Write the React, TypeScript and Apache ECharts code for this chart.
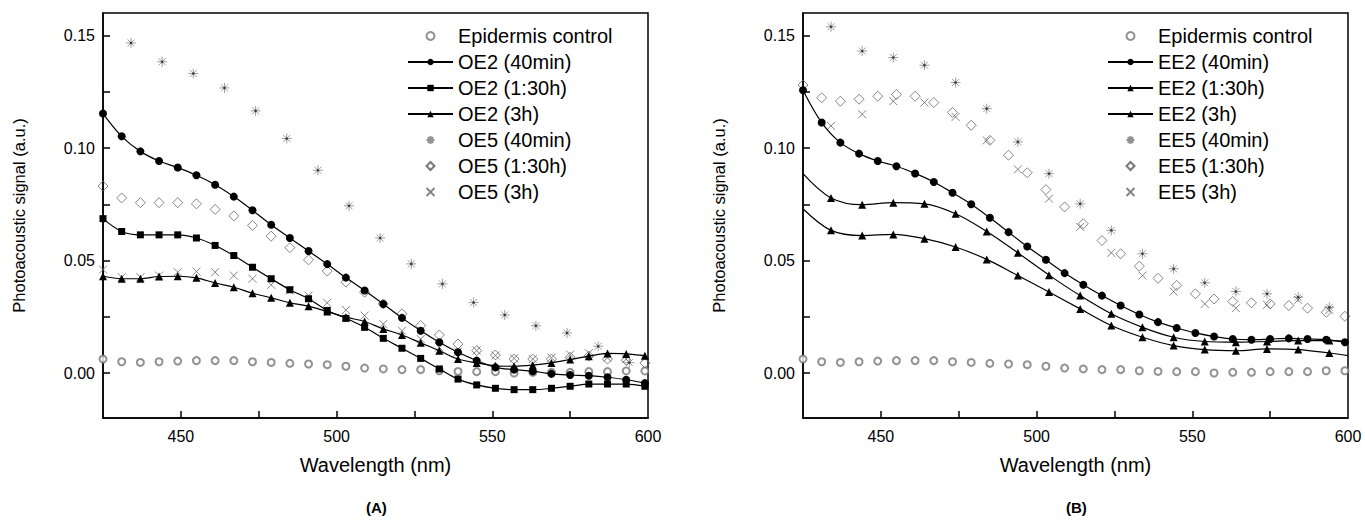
import React, { useEffect, useRef } from 'react';
import * as echarts from 'echarts';

// ---------- data ----------
const wl6 = [425, 431, 437, 443, 449, 455, 461, 467, 473, 479, 485, 491, 497, 503, 509, 515, 521, 527, 533, 539, 545, 551, 557, 563, 569, 575, 581, 587, 593, 599];
const wl10 = [434, 444, 454, 464, 474, 484, 494, 504, 514, 524, 534, 544, 554, 564, 574, 584, 594];
const wlTri = [425, 434, 444, 454, 464, 474, 484, 494, 504, 514, 524, 534, 544, 554, 564, 574, 584, 594, 600];

// Panel A
const controlA = [0.0062, 0.0050, 0.0047, 0.0050, 0.0053, 0.0055, 0.0055, 0.0055, 0.0050, 0.0047, 0.0043, 0.0040, 0.0037, 0.0030, 0.0022, 0.0018, 0.0015, 0.0015, 0.0010, 0.0007, 0.0006, 0.0006, 0.0000, 0.0003, 0.0003, 0.0003, 0.0006, 0.0006, 0.0009, 0.0009];
const oe2_40 = [0.1153, 0.1052, 0.0985, 0.0942, 0.0913, 0.0879, 0.0837, 0.0784, 0.0723, 0.0659, 0.0600, 0.0542, 0.0484, 0.0424, 0.0367, 0.0307, 0.0245, 0.0188, 0.0137, 0.0092, 0.0055, 0.0025, 0.0015, 0.0008, -0.0004, -0.0009, -0.0012, -0.0019, -0.0030, -0.0045];
const oe2_130 = [0.0686, 0.0629, 0.0614, 0.0614, 0.0614, 0.0600, 0.0567, 0.0522, 0.0470, 0.0419, 0.0370, 0.0330, 0.0278, 0.0243, 0.0203, 0.0154, 0.0110, 0.0065, 0.0018, -0.0027, -0.0053, -0.0068, -0.0074, -0.0074, -0.0068, -0.0059, -0.0049, -0.0049, -0.0049, -0.0059];
const oe2_3h = [0.0430, 0.0419, 0.0419, 0.0429, 0.0430, 0.0423, 0.0400, 0.0381, 0.0355, 0.0334, 0.0312, 0.0297, 0.0273, 0.0248, 0.0229, 0.0196, 0.0169, 0.0134, 0.0099, 0.0062, 0.0045, 0.0032, 0.0030, 0.0035, 0.0045, 0.0060, 0.0075, 0.0087, 0.0085, 0.0077];
const oe5_40 = [0.1467, 0.1383, 0.1331, 0.1267, 0.1165, 0.1042, 0.0901, 0.0743, 0.0600, 0.0485, 0.0396, 0.0313, 0.0258, 0.0210, 0.0178, 0.0119, 0.0046];
const oe5_130 = [0.0831, 0.0778, 0.0757, 0.0757, 0.0757, 0.0752, 0.0727, 0.0698, 0.0656, 0.0608, 0.0557, 0.0503, 0.0453, 0.0404, 0.0359, 0.0307, 0.0263, 0.0211, 0.0169, 0.0129, 0.0099, 0.0080, 0.0062, 0.0062, 0.0062, 0.0070, 0.0075, 0.0062, 0.0057, 0.0045];
const oe5_3h = [0.0460, 0.0426, 0.0426, 0.0433, 0.0448, 0.0451, 0.0448, 0.0433, 0.0419, 0.0392, 0.0367, 0.0344, 0.0312, 0.0280, 0.0255, 0.0218, 0.0188, 0.0151, 0.0114, 0.0095, 0.0100, 0.0078, 0.0065, 0.0062, 0.0068, 0.0082, 0.0088, 0.0068, 0.0062, 0.0065];

// Panel B
const controlB = [0.0062, 0.0050, 0.0047, 0.0050, 0.0053, 0.0055, 0.0055, 0.0055, 0.0050, 0.0047, 0.0043, 0.0040, 0.0037, 0.0030, 0.0022, 0.0018, 0.0015, 0.0015, 0.0010, 0.0007, 0.0006, 0.0006, 0.0000, 0.0003, 0.0003, 0.0006, 0.0006, 0.0006, 0.0010, 0.0010];
const ee2_40 = [0.1257, 0.1113, 0.1024, 0.0975, 0.0942, 0.0919, 0.0887, 0.0849, 0.0801, 0.0750, 0.0690, 0.0626, 0.0562, 0.0503, 0.0444, 0.0392, 0.0344, 0.0300, 0.0260, 0.0226, 0.0200, 0.0178, 0.0162, 0.0151, 0.0148, 0.0151, 0.0154, 0.0151, 0.0148, 0.0137];
const ee2_130 = [0.0886, 0.0778, 0.0748, 0.0757, 0.0752, 0.0708, 0.0629, 0.0534, 0.0435, 0.0344, 0.0263, 0.0203, 0.0159, 0.0140, 0.0137, 0.0140, 0.0144, 0.0144, 0.0140];
const ee2_3h = [0.0730, 0.0634, 0.0611, 0.0616, 0.0597, 0.0560, 0.0505, 0.0433, 0.0360, 0.0285, 0.0211, 0.0159, 0.0122, 0.0104, 0.0099, 0.0107, 0.0104, 0.0089, 0.0077];
const ee5_40 = [0.1539, 0.1431, 0.1402, 0.1368, 0.1291, 0.1175, 0.1027, 0.0886, 0.0752, 0.0634, 0.0530, 0.0463, 0.0401, 0.0362, 0.0352, 0.0337, 0.0292];
const ee5_130 = [0.1280, 0.1223, 0.1208, 0.1217, 0.1230, 0.1238, 0.1230, 0.1202, 0.1158, 0.1101, 0.1034, 0.0968, 0.0890, 0.0815, 0.0738, 0.0663, 0.0589, 0.0530, 0.0475, 0.0421, 0.0389, 0.0352, 0.0329, 0.0318, 0.0312, 0.0307, 0.0300, 0.0288, 0.0270, 0.0252];
const ee5_3h = [0.1098, 0.1150, 0.1208, 0.1202, 0.1138, 0.1034, 0.0905, 0.0775, 0.0649, 0.0534, 0.0433, 0.0362, 0.0307, 0.0288, 0.0303, 0.0325, 0.0280];

const xTicks = [450, 475, 500, 525, 550, 575];
const xLabels = [450, 500, 550, 600];
const yTicks = [0, 0.025, 0.05, 0.075, 0.1, 0.125, 0.15];
const yLabels = [0, 0.05, 0.1, 0.15];

const namesA = ['Epidermis control', 'OE2 (40min)', 'OE2 (1:30h)', 'OE2 (3h)', 'OE5 (40min)', 'OE5 (1:30h)', 'OE5 (3h)'];
const namesB = ['Epidermis control', 'EE2 (40min)', 'EE2 (1:30h)', 'EE2 (3h)', 'EE5 (40min)', 'EE5 (1:30h)', 'EE5 (3h)'];

// ---------- styling ----------
const FONT = 'Arial, "Liberation Sans", Helvetica, sans-serif';
const STAR = 'path://M5,0L5,10M0,5L10,5M1.5,1.5L8.5,8.5M1.5,8.5L8.5,1.5';
const CROSS = 'path://M0,0L8,8M0,8L8,0';
const DIAMOND = 'path://M5,0L10,5L5,10L0,5Z';

const pairs = (xs: number[], ys: number[]) => xs.map((x, i) => [x, ys[i]]);
const pairsEnds = (xs: number[], ys: number[]) =>
  xs.map((x, i) =>
    i === 0 || i === xs.length - 1 ? { value: [x, ys[i]], symbol: 'none' } : [x, ys[i]]
  );

function axes(gi: number) {
  const xAxis = {
    type: 'value', gridIndex: gi, min: 425, max: 600,
    name: 'Wavelength (nm)', nameLocation: 'middle', nameGap: 37,
    nameTextStyle: { fontSize: 20, color: '#000', fontFamily: FONT },
    axisLine: { show: true, onZero: false, lineStyle: { color: '#000', width: 1.5 } },
    axisTick: { show: true, inside: true, length: 7, lineStyle: { color: '#000', width: 1.5 }, customValues: xTicks },
    axisLabel: { color: '#000', fontSize: 16, fontFamily: FONT, margin: 10, customValues: xLabels, formatter: (v: number) => String(v) },
    splitLine: { show: false },
  };
  const yAxis = {
    type: 'value', gridIndex: gi, min: -0.02, max: 0.16,
    name: 'Photoacoustic signal (a.u.)', nameLocation: 'middle', nameGap: 76, nameRotate: 90,
    nameTextStyle: { fontSize: 16.5, color: '#000', fontFamily: FONT },
    axisLine: { show: true, onZero: false, lineStyle: { color: '#000', width: 1.5 } },
    axisTick: { show: true, inside: true, length: 7, lineStyle: { color: '#000', width: 1.5 }, customValues: yTicks },
    axisLabel: { color: '#000', fontSize: 16, fontFamily: FONT, margin: 8, customValues: yLabels, formatter: (v: number) => v.toFixed(2) },
    splitLine: { show: false },
  };
  return { xAxis, yAxis };
}

function lineSeries(name: string, gi: number, data: any[], symbol: string, size: number) {
  return {
    type: 'line', name, xAxisIndex: gi, yAxisIndex: gi, data, symbol, symbolSize: size,
    showSymbol: true, smooth: 0.35, clip: true,
    itemStyle: { color: '#000' },
    lineStyle: { color: '#000', width: 1.2 },
    z: 4,
  };
}

function scatterSeries(name: string, gi: number, data: any[], symbol: string, size: number, color: string, path = false, bw = 1) {
  return {
    type: 'scatter', name, xAxisIndex: gi, yAxisIndex: gi, data, symbol, symbolSize: size, clip: true,
    symbolKeepAspect: true,
    itemStyle: path
      ? { color: 'rgba(255,255,255,0)', borderColor: color, borderWidth: bw }
      : { color, borderWidth: bw },
    z: 2,
  };
}

function starDots(gi: number, data: any[]) {
  return {
    type: 'scatter', name: 'dot' + gi, xAxisIndex: gi, yAxisIndex: gi, data, symbol: 'circle', symbolSize: 2.5,
    clip: true, itemStyle: { color: '#222' }, z: 3, silent: true,
  };
}

function legend(left: number, names: string[]) {
  return {
    orient: 'vertical', left, top: 26, padding: 0, itemWidth: 45, itemHeight: 8, itemGap: 6,
    data: names, selectedMode: false, symbolKeepAspect: true,
    textStyle: { fontSize: 20, color: '#000', fontFamily: FONT },
  };
}

export default function App() {
  const ref = useRef<HTMLDivElement>(null);
  useEffect(() => {
    if (!ref.current) return;
    const chart = echarts.init(ref.current, null, { renderer: 'svg' });
    const a = axes(0);
    const b = axes(1);
    chart.setOption({
      animation: false,
      backgroundColor: '#fff',
      textStyle: { fontFamily: FONT },
      grid: [
        { left: 103, top: 13, width: 545, height: 405, show: true, borderColor: '#000', borderWidth: 1.5, backgroundColor: 'transparent' },
        { left: 803, top: 13, width: 545, height: 405, show: true, borderColor: '#000', borderWidth: 1.5, backgroundColor: 'transparent' },
      ],
      xAxis: [a.xAxis, b.xAxis],
      yAxis: [a.yAxis, b.yAxis],
      legend: [legend(407, namesA), legend(1107, namesB)],
      graphic: [
        { type: 'text', left: 366, top: 500, style: { text: '(A)', font: 'bold 15px ' + FONT, fill: '#000' } },
        { type: 'text', left: 1066, top: 500, style: { text: '(B)', font: 'bold 15px ' + FONT, fill: '#000' } },
      ],
      series: [
        scatterSeries(namesA[0], 0, pairs(wl6, controlA), 'emptyCircle', 7, '#777'),
        lineSeries(namesA[1], 0, pairs(wl6, oe2_40), 'circle', 8),
        lineSeries(namesA[2], 0, pairs(wl6, oe2_130), 'rect', 7),
        lineSeries(namesA[3], 0, pairs(wl6, oe2_3h), 'triangle', 8),
        scatterSeries(namesA[4], 0, pairs(wl10, oe5_40), STAR, 10, '#777', true, 0.9),
        starDots(0, pairs(wl10, oe5_40)),
        scatterSeries(namesA[5], 0, pairs(wl6, oe5_130), DIAMOND, 10, '#555', true, 0.9),
        scatterSeries(namesA[6], 0, pairs(wl6, oe5_3h), CROSS, 8, '#666', true, 1),

        scatterSeries(namesB[0], 1, pairs(wl6, controlB), 'emptyCircle', 7, '#777'),
        lineSeries(namesB[1], 1, pairs(wl6, ee2_40), 'circle', 8),
        lineSeries(namesB[2], 1, pairsEnds(wlTri, ee2_130), 'triangle', 8),
        lineSeries(namesB[3], 1, pairsEnds(wlTri, ee2_3h), 'triangle', 8),
        scatterSeries(namesB[4], 1, pairs(wl10, ee5_40), STAR, 10, '#777', true, 0.9),
        starDots(1, pairs(wl10, ee5_40)),
        scatterSeries(namesB[5], 1, pairs(wl6, ee5_130), DIAMOND, 10, '#555', true, 0.9),
        scatterSeries(namesB[6], 1, pairs(wl10, ee5_3h), CROSS, 8, '#666', true, 1),
      ],
    });
    return () => chart.dispose();
  }, []);
  return <div ref={ref} style={{ position: 'fixed', left: 0, top: 0, width: 1365, height: 523, background: '#fff' }} />;
}
